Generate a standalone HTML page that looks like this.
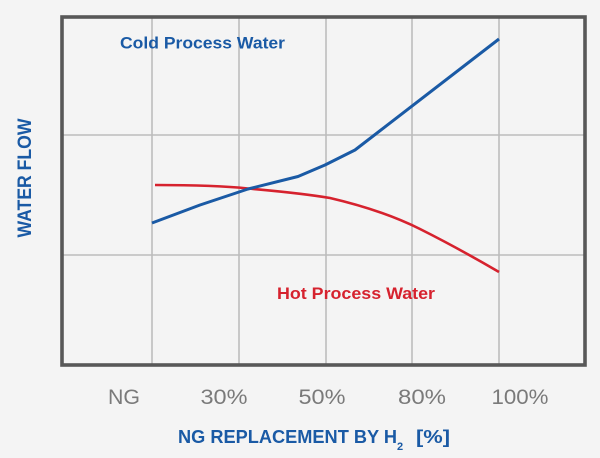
<!DOCTYPE html>
<html>
<head>
<meta charset="utf-8">
<style>
  html, body { margin: 0; padding: 0; background: #f4f4f4; }
  svg { display: block; }
</style>
</head>
<body>
<svg width="600" height="458" viewBox="0 0 600 458" xmlns="http://www.w3.org/2000/svg">
  <rect x="0" y="0" width="600" height="458" fill="#f4f4f4"/>
  <!-- gridlines -->
  <g stroke="#bcbcbc" stroke-width="1.6" fill="none">
    <line x1="152" y1="17" x2="152" y2="365"/>
    <line x1="239" y1="17" x2="239" y2="365"/>
    <line x1="326" y1="17" x2="326" y2="365"/>
    <line x1="412" y1="17" x2="412" y2="365"/>
    <line x1="499" y1="17" x2="499" y2="365"/>
    <line x1="62" y1="135" x2="585" y2="135"/>
    <line x1="62" y1="255" x2="585" y2="255"/>
  </g>
  <!-- frame -->
  <rect x="62" y="17" width="523" height="348" fill="none" stroke="#585858" stroke-width="3.6"/>

  <!-- red curve -->
  <path d="M155,185 C190,185 225,186 248,188.5 C275,191 300,193 330,198 C360,205 390,214 420,229 C450,244 475,258 499,272"
        fill="none" stroke="#d6222e" stroke-width="2.6" stroke-linecap="butt"/>
  <!-- blue curve -->
  <path d="M152,223 L200,205 L248,189 L298,176.5 L325,165 L355,150 L499,39"
        fill="none" stroke="#1a5aa5" stroke-width="3" stroke-linejoin="round"/>

  <!-- series labels -->
  <text x="120" y="48.5" font-family="'Liberation Sans', sans-serif" font-weight="bold" font-size="16.5"
        fill="#1a5aa5" textLength="165" lengthAdjust="spacingAndGlyphs">Cold Process Water</text>
  <text x="277" y="299" font-family="'Liberation Sans', sans-serif" font-weight="bold" font-size="16.5"
        fill="#d6222e" textLength="158" lengthAdjust="spacingAndGlyphs">Hot Process Water</text>

  <!-- tick labels -->
  <g font-family="'Liberation Sans', sans-serif" font-size="21" fill="#7a7a7a" text-anchor="middle">
    <text x="124" y="404" textLength="32" lengthAdjust="spacingAndGlyphs">NG</text>
    <text x="224" y="404" textLength="47" lengthAdjust="spacingAndGlyphs">30%</text>
    <text x="322" y="404" textLength="47" lengthAdjust="spacingAndGlyphs">50%</text>
    <text x="422" y="404" textLength="48" lengthAdjust="spacingAndGlyphs">80%</text>
    <text x="520" y="404" textLength="57" lengthAdjust="spacingAndGlyphs">100%</text>
  </g>

  <!-- x axis title -->
  <g font-family="'Liberation Sans', sans-serif" font-weight="bold" fill="#1a5aa5">
    <text x="178" y="443" font-size="18" textLength="219" lengthAdjust="spacingAndGlyphs">NG REPLACEMENT BY H</text>
    <text x="397" y="450" font-size="11">2</text>
    <text x="416" y="443" font-size="18" textLength="34" lengthAdjust="spacingAndGlyphs">[%]</text>
  </g>

  <!-- y axis title -->
  <text x="0" y="0" transform="translate(31,178) rotate(-90)" text-anchor="middle"
        font-family="'Liberation Sans', sans-serif" font-weight="bold" font-size="19" fill="#1a5aa5"
        textLength="119" lengthAdjust="spacingAndGlyphs">WATER FLOW</text>
</svg>
</body>
</html>
